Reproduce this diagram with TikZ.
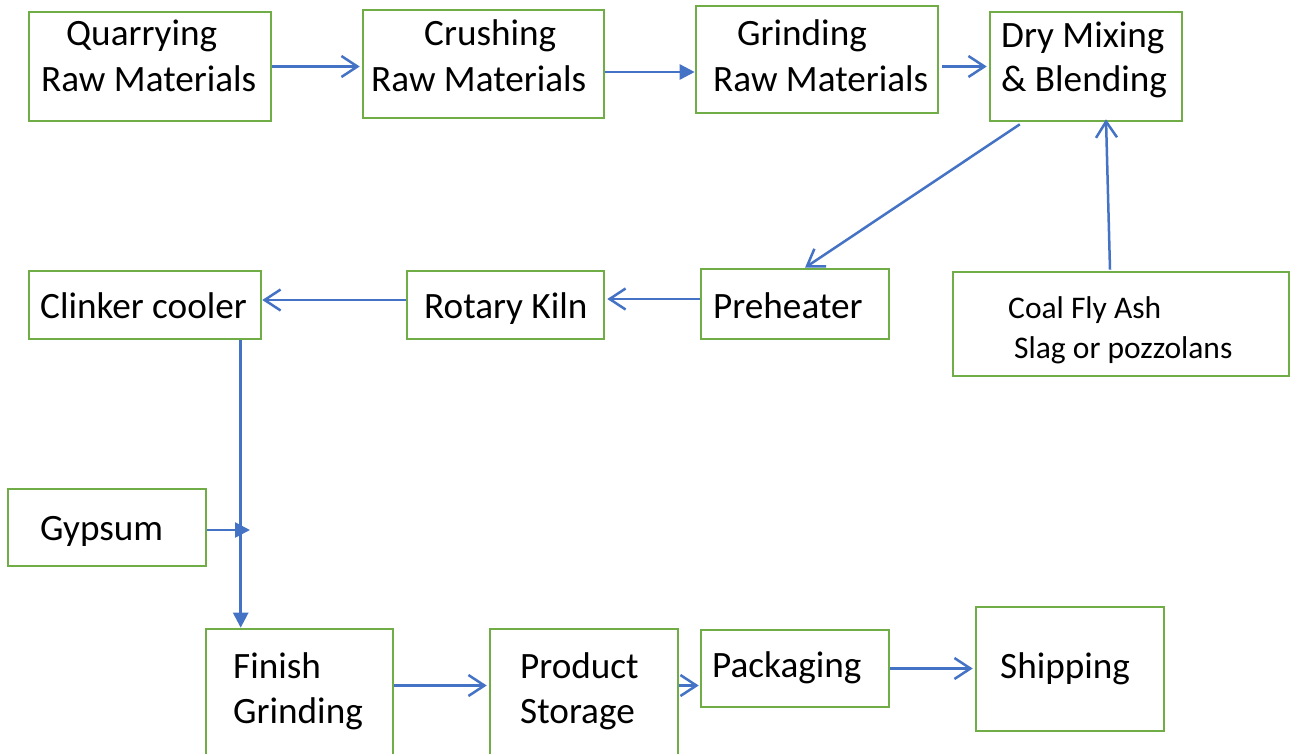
\documentclass[tikz,border=0pt]{standalone}
\usepackage{fontspec}
\setmainfont{Carlito}
\usetikzlibrary{arrows.meta,fit,calc}
\definecolor{boxgreen}{HTML}{70AD47}
\definecolor{arrowblue}{HTML}{4472C4}
\begin{document}
\begin{tikzpicture}[x=1pt,y=-1pt,
  box/.style={draw=boxgreen, line width=2.6pt, inner sep=0pt},
  txt/.style={anchor=base west, inner sep=0pt, font=\fontsize{37.2}{44}\selectfont},
  smalltxt/.style={anchor=base west, inner sep=0pt, font=\fontsize{31.5}{38}\selectfont},
  openarr/.style={draw=arrowblue, line width=2.5pt, -{Straight Barb[length=16pt,width=21pt]}},
  fillarr/.style={draw=arrowblue, line width=2.5pt, -{Triangle[length=15pt,width=15pt]}}]
\useasboundingbox[fill=white] (0,0) rectangle (1292,753);

% boxes
\node[box, fit={(29,12) (271,121)}] (q) {};
\node[box, fit={(363,10) (604,118)}] (c) {};
\node[box, fit={(696,6) (938,113)}] (g) {};
\node[box, fit={(990,12) (1182,121)}] (d) {};
\node[box, fit={(953,272) (1289,376)}] (coal) {};
\node[box, fit={(701,269) (889,339)}] (p) {};
\node[box, fit={(407,271) (604,339)}] (r) {};
\node[box, fit={(29,271) (261,339)}] (cl) {};
\node[box, fit={(8,489) (206,566)}] (gy) {};
\node[box, fit={(206,629) (393,762)}] (f) {};
\node[box, fit={(490,629) (678,762)}] (pr) {};
\node[box, fit={(701,630) (889,707)}] (pk) {};
\node[box, fit={(976,607) (1164,731)}] (s) {};

% texts
\node[txt] (tq1) at (66,45) {Quarrying};
\node[txt] (tq2) at (41,91) {Raw Materials};
\node[txt] (tc1) at (424,45) {Crushing};
\node[txt] (tc2) at (371,91) {Raw Materials};
\node[txt] (tg1) at (737,45) {Grinding};
\node[txt] (tg2) at (713,91) {Raw Materials};
\node[txt] (td1) at (1001,47) {Dry Mixing};
\node[txt] (td2) at (1001,91) {\& Blending};
\node[smalltxt] (tco1) at (1008,318) {Coal Fly Ash};
\node[smalltxt] (tco2) at (1014,358) {Slag or pozzolans};
\node[txt] (tp) at (713,318) {Preheater};
\node[txt] (tr) at (424,318) {Rotary Kiln};
\node[txt] (tcl) at (40,318) {Clinker cooler};
\node[txt] (tgy) at (40,540) {Gypsum};
\node[txt] (tf1) at (233,678) {Finish};
\node[txt] (tf2) at (233,723) {Grinding};
\node[txt] (tpr1) at (520,678) {Product};
\node[txt] (tpr2) at (520,723) {Storage};
\node[txt] (tpk) at (712,677) {Packaging};
\node[txt] (ts) at (1000,678) {Shipping};

% helper coordinates
\coordinate (cg) at ($(c.east)+(0,8)$);
\coordinate (dp1) at ($(d.south west)!0.16!(d.south east)+(0,2)$);
\coordinate (dp2) at ($(p.north)+(10,0)$);
\coordinate (cd1) at ($(coal.north)+(-11,-1)$);
\coordinate (cd2) at ($(d.south)+(20,-3)$);
\coordinate (pr1) at ($(p.west)+(0,-5)$);
\coordinate (rc1) at ($(r.west)+(0,-5)$);
\coordinate (fv) at ($(f.north west)+(36,0)$);
\coordinate (gj) at (250,530);
\coordinate (fp) at ($(f.east)+(0,-10)$);

% connectors
\draw[openarr, shorten >=2pt] (q.east) -- (q.east -| c.west);
\draw[fillarr] (cg) -- (cg -| g.west);
\draw[openarr, shorten <=3pt, shorten >=2pt] (g.east |- d.west) -- (d.west);
\draw[openarr] (dp1) -- (dp2);
\draw[openarr] (cd1) -- (cd2);
\draw[openarr, shorten >=2pt] (pr1) -- (pr1 -| r.east);
\draw[openarr] (rc1) -- (rc1 -| cl.east);
\draw[fillarr] (cl.south -| fv) -- (fv);
\draw[fillarr] (gy.east |- gj) -- (gj);
\draw[openarr, shorten >=2pt] (fp) -- (fp -| pr.west);
\draw[openarr, shorten >=1pt] (pr.east |- fp) -- (fp -| pk.west);
\draw[openarr, shorten >=2pt] (pk.east) -- (pk.east -| s.west);
\end{tikzpicture}
\end{document}
